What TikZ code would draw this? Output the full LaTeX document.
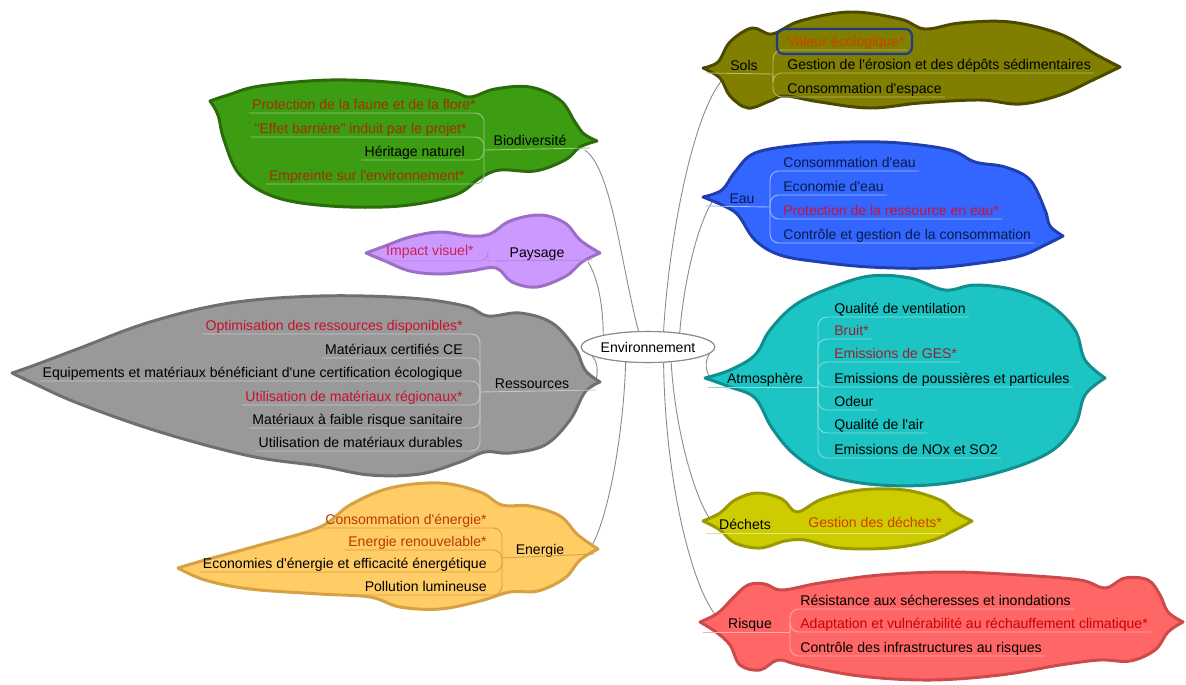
\documentclass[tikz,border=0pt]{standalone}
\usepackage{fontspec}
\setmainfont{Liberation Sans}[Ligatures=TeXOff]
\usetikzlibrary{shapes.geometric,calc}
\definecolor{gfill}{HTML}{3C9C12}\definecolor{gdraw}{HTML}{2B6B0B}\definecolor{gred}{HTML}{A33000}
\definecolor{pfill}{HTML}{CC99FF}\definecolor{pdraw}{HTML}{9A6FC4}\definecolor{pred}{HTML}{CC2255}
\definecolor{rfill}{HTML}{999999}\definecolor{rdraw}{HTML}{6F6F6F}\definecolor{rred}{HTML}{C8102E}
\definecolor{efill}{HTML}{FFCC66}\definecolor{edraw}{HTML}{D6A143}\definecolor{ered}{HTML}{B83A00}
\definecolor{sfill}{HTML}{807F00}\definecolor{sdraw}{HTML}{4C4A00}\definecolor{sred}{HTML}{D04000}\definecolor{selbox}{HTML}{1C3B8C}
\definecolor{wfill}{HTML}{3366FF}\definecolor{wdraw}{HTML}{1F3FB0}\definecolor{wtxt}{HTML}{0A1A4A}\definecolor{wred}{HTML}{D01030}
\definecolor{afill}{HTML}{1CC4C4}\definecolor{adraw}{HTML}{118F8F}\definecolor{ared}{HTML}{9A2030}
\definecolor{dfill}{HTML}{CCCC00}\definecolor{ddraw}{HTML}{9A9A00}\definecolor{dred}{HTML}{D04000}
\definecolor{xfill}{HTML}{FF6666}\definecolor{xdraw}{HTML}{CC4A4A}\definecolor{xred}{HTML}{CC0000}
\definecolor{connc}{HTML}{8A8A8A}
\begin{document}
\begin{tikzpicture}[x=0.02cm,y=-0.02cm,
  font=\fontsize{8}{9.6}\selectfont,
  blob/.style={line width=1.7pt,line join=round},
  sm/.style={smooth,tension=0.6},
  itemR/.style={anchor=base west,inner sep=0pt},
  itemL/.style={anchor=base east,inner sep=0pt},
  lab/.style={anchor=base,inner sep=0pt},
  conn/.style={draw=connc,line width=0.5pt},
  ul/.style={line width=0.5pt,rounded corners=5}]
\useasboundingbox[fill=white] (0,0) rectangle (1186,684);

% centre
\node[ellipse,draw=connc,fill=white,line width=0.6pt,inner sep=0pt,minimum width=2.18cm,minimum height=0.62cm] (env) at (648,347) {Environnement};

% connector ends
\coordinate (bioC) at (585,150);
\coordinate (payC) at (588,262);
\coordinate (resC) at (596,380);
\coordinate (eneC) at (588,552);
\coordinate (solsC) at (722,80);
\coordinate (eauC) at (712,202);
\coordinate (atmC) at (710,377);
\coordinate (decC) at (712,522);
\coordinate (risC) at (718,618);

\draw[conn] (env.121) .. controls (620,260) and (612,170) .. (bioC);
\draw[conn] (env.165) .. controls (603,305) and (598,278) .. (payC);
\draw[conn] (env.189) .. controls (598,362) and (598,372) .. (resC);
\draw[conn] (env.214) .. controls (624,430) and (608,525) .. (eneC);
\draw[conn] (env.45) .. controls (668,250) and (690,120) .. (solsC);
\draw[conn] (env.24) .. controls (683,290) and (695,230) .. (eauC);
\draw[conn] (env.354) .. controls (704,362) and (706,372) .. (atmC);
\draw[conn] (env.327) .. controls (675,430) and (695,500) .. (decC);
\draw[conn] (env.315) .. controls (665,480) and (692,590) .. (risC);

% ---------- blobs ----------
\filldraw[blob,fill=gfill,draw=gdraw]
  plot[sm] coordinates {(210,101) (228,95) (260,86) (330,80) (400,83) (450,91) (470,97) (495,89) (530,87) (560,100) (575,122) (584,134) (597,141)}
  -- plot[sm] coordinates {(597,141) (580,147) (565,160) (535,171) (500,170) (480,178) (455,195) (400,206) (330,206) (275,197) (240,175) (224,140) (218,115) (210,101)} -- cycle;
\filldraw[blob,fill=pfill,draw=pdraw]
  plot[sm] coordinates {(366,253) (385,246) (410,237) (440,232) (470,236) (490,234) (510,221) (540,215) (565,223) (580,240) (600,253)}
  -- plot[sm] coordinates {(600,253) (582,262) (566,276) (537,287) (512,282) (496,268) (470,271) (440,274) (410,271) (385,261) (366,253)} -- cycle;
\filldraw[blob,fill=rfill,draw=rdraw]
  plot[sm] coordinates {(12,373) (35,365) (80,348) (150,322) (230,303) (320,296) (410,298) (465,306) (488,316) (520,313) (552,323) (575,348) (585,370) (600,382)}
  -- plot[sm] coordinates {(600,382) (585,392) (570,420) (545,445) (510,453) (485,452) (460,462) (420,474) (370,475) (320,466) (250,456) (160,432) (80,404) (35,384) (12,373)} -- cycle;
\filldraw[blob,fill=efill,draw=edraw]
  plot[sm] coordinates {(178,568) (205,560) (260,545) (320,527) (350,505) (390,488) (440,483) (480,492) (502,505) (530,506) (560,516) (578,535) (598,549)}
  -- plot[sm] coordinates {(598,549) (580,560) (565,578) (538,591) (510,592) (480,601) (440,609) (400,607) (370,597) (320,594) (250,589) (205,580) (178,568)} -- cycle;
\filldraw[blob,fill=sfill,draw=sdraw]
  plot[sm] coordinates {(703,68) (718,62) (730,42) (752,28) (772,34) (800,21) (850,12) (900,19) (925,29) (960,23) (1010,22) (1060,34) (1095,54) (1120,67)}
  -- plot[sm] coordinates {(1120,67) (1095,79) (1060,95) (1020,104) (980,100) (920,103) (870,108) (820,102) (785,96) (770,101) (748,108) (730,96) (720,78) (703,68)} -- cycle;
\filldraw[blob,fill=wfill,draw=wdraw]
  plot[sm] coordinates {(703,197) (722,190) (735,172) (755,153) (800,145) (850,142) (900,143) (950,150) (975,162) (1005,167) (1030,180) (1045,210) (1050,226) (1063,236)}
  -- plot[sm] coordinates {(1063,236) (1045,245) (1020,256) (980,263) (930,268) (870,267) (820,262) (780,255) (755,240) (738,215) (722,205) (703,197)} -- cycle;
\filldraw[blob,fill=afill,draw=adraw]
  plot[sm] coordinates {(705,378) (730,370) (755,355) (770,330) (795,305) (830,288) (870,276) (910,278) (945,290) (975,285) (1015,290) (1050,305) (1075,330) (1085,360) (1105,378)}
  -- plot[sm] coordinates {(1105,378) (1085,395) (1075,425) (1050,452) (1000,472) (940,484) (880,485) (830,476) (795,455) (772,428) (755,398) (730,387) (705,378)} -- cycle;
\filldraw[blob,fill=dfill,draw=ddraw]
  plot[sm] coordinates {(703,521) (720,513) (735,500) (757,493) (782,499) (797,512) (822,499) (860,490) (905,490) (940,500) (955,512) (972,521)}
  -- plot[sm] coordinates {(972,521) (955,530) (930,541) (890,548) (840,548) (805,540) (785,541) (760,548) (735,543) (720,530) (703,521)} -- cycle;
\filldraw[blob,fill=xfill,draw=xdraw]
  plot[sm] coordinates {(700,622) (718,613) (733,598) (748,585) (765,584) (782,590) (820,583) (880,575) (950,572) (1020,575) (1080,580) (1105,588) (1125,578) (1148,580) (1160,595) (1168,612) (1183,622)}
  -- plot[sm] coordinates {(1183,622) (1168,632) (1155,650) (1130,661) (1100,660) (1060,665) (1000,675) (930,680) (860,676) (800,665) (778,660) (760,670) (740,665) (730,645) (716,632) (700,622)} -- cycle;

\node[ellipse,draw=connc,fill=white,line width=0.6pt,inner sep=0pt,minimum width=2.18cm,minimum height=0.62cm] at (env) {Environnement};

% ---------- Biodiversité ----------
\node[lab] (bio) at (530,145) {Biodiversité};
\node[itemL,text=gred] (bio1) at (476,109) {Protection de la faune et de la flore*};
\node[itemL,text=gred] (bio2) at (467,133) {"Effet barrière" induit par le projet*};
\node[itemL] (bio3) at (465,156) {Héritage naturel};
\node[itemL,text=gred] (bio4) at (465,180) {Empreinte sur l'environnement*};
\coordinate (bioB) at (484,150);
\draw[ul,draw=gfill!55!white] (bioB) -- (590,148);
\foreach \i in {1,...,4}{\draw[ul,draw=gfill!55!white] (bioB) |- ($(bio\i.base west)+(-3,4)$);}

% ---------- Paysage ----------
\node[lab] (pay) at (537,257) {Paysage};
\node[itemL,text=pred] (pay1) at (474,255) {Impact visuel*};
\coordinate (payB) at (488,261);
\draw[ul,draw=pfill!50!pdraw] (payB) -- (592,260);
\draw[ul,draw=pfill!50!pdraw] (payB) |- ($(pay1.base west)+(-3,6)$);

% ---------- Ressources ----------
\node[lab] (res) at (532,388) {Ressources};
\node[itemL,text=rred] (res1) at (463,330) {Optimisation des ressources disponibles*};
\node[itemL] (res2) at (463,354) {Matériaux certifiés CE};
\node[itemL] (res3) at (463,377) {Equipements et matériaux bénéficiant d'une certification écologique};
\node[itemL,text=rred] (res4) at (463,401) {Utilisation de matériaux régionaux*};
\node[itemL] (res5) at (463,424) {Matériaux à faible risque sanitaire};
\node[itemL] (res6) at (463,447) {Utilisation de matériaux durables};
\coordinate (resB) at (480,392);
\draw[ul,draw=rfill!55!white] (resB) -- (596,390);
\foreach \i in {1,...,6}{\draw[ul,draw=rfill!55!white] (resB) |- ($(res\i.base west)+(-3,4)$);}

% ---------- Energie ----------
\node[lab] (ene) at (540,554) {Energie};
\node[itemL,text=ered] (ene1) at (487,524) {Consommation d'énergie*};
\node[itemL,text=ered] (ene2) at (487,546) {Energie renouvelable*};
\node[itemL] (ene3) at (487,568) {Economies d'énergie et efficacité énergétique};
\node[itemL] (ene4) at (487,591) {Pollution lumineuse};
\coordinate (eneB) at (502,558);
\draw[ul,draw=edraw] (eneB) -- (594,554);
\foreach \i in {1,...,4}{\draw[ul,draw=edraw] (eneB) |- ($(ene\i.base west)+(-3,4)$);}

% ---------- Sols ----------
\node[lab] (sols) at (744,70) {Sols};
\node[itemR,text=sred] (sols1) at (787,46) {Valeur écologique*};
\node[itemR] (sols2) at (787,69) {Gestion de l'érosion et des dépôts sédimentaires};
\node[itemR] (sols3) at (787,93) {Consommation d'espace};
\coordinate (solsB) at (773,74);
\draw[ul,draw=sfill!55!white] (706,73) -- (solsB);
\foreach \i in {1,...,3}{\draw[ul,draw=sfill!55!white] (solsB) |- ($(sols\i.base east)+(3,4)$);}
\draw[selbox,line width=1.2pt,rounded corners=4] (777,29) rectangle (912,54);

% ---------- Eau ----------
\node[lab,text=wtxt] (eau) at (742,203) {Eau};
\node[itemR,text=wtxt] (eau1) at (783,167) {Consommation d'eau};
\node[itemR,text=wtxt] (eau2) at (783,191) {Economie d'eau};
\node[itemR,text=wred] (eau3) at (783,215) {Protection de la ressource en eau*};
\node[itemR,text=wtxt] (eau4) at (783,239) {Contrôle et gestion de la consommation};
\coordinate (eauB) at (770,207);
\draw[ul,draw=wfill!45!white] (706,206) -- (eauB);
\foreach \i in {1,...,4}{\draw[ul,draw=wfill!45!white] (eauB) |- ($(eau\i.base east)+(3,4)$);}

% ---------- Atmosphère ----------
\node[lab] (atm) at (765,383) {Atmosphère};
\node[itemR] (atm1) at (834,313) {Qualité de ventilation};
\node[itemR,text=ared] (atm2) at (834,335) {Bruit*};
\node[itemR,text=ared] (atm3) at (834,358) {Emissions de GES*};
\node[itemR] (atm4) at (834,383) {Emissions de poussières et particules};
\node[itemR] (atm5) at (834,406) {Odeur};
\node[itemR] (atm6) at (834,429) {Qualité de l'air};
\node[itemR] (atm7) at (834,454) {Emissions de NOx et SO2};
\coordinate (atmB) at (818,387);
\draw[ul,draw=afill!55!white] (708,387) -- (atmB);
\foreach \i in {1,...,7}{\draw[ul,draw=afill!55!white] (atmB) |- ($(atm\i.base east)+(3,4)$);}

% ---------- Déchets ----------
\node[lab] (dec) at (745,529) {Déchets};
\node[itemR,text=dred] (dec1) at (808,527) {Gestion des déchets*};
\coordinate (decB) at (795,533);
\draw[ul,draw=dfill!50!white] (706,533) -- (decB);
\draw[ul,draw=dfill!50!white] (decB) -- ($(dec1.base east)+(3,6)$);

% ---------- Risque ----------
\node[lab] (ris) at (750,628) {Risque};
\node[itemR] (ris1) at (800,605) {Résistance aux sécheresses et inondations};
\node[itemR,text=xred] (ris2) at (800,628) {Adaptation et vulnérabilité au réchauffement climatique*};
\node[itemR] (ris3) at (800,652) {Contrôle des infrastructures au risques};
\coordinate (risB) at (790,632);
\draw[ul,draw=xfill!55!white] (703,632) -- (risB);
\foreach \i in {1,...,3}{\draw[ul,draw=xfill!55!white] (risB) |- ($(ris\i.base east)+(3,4)$);}
\end{tikzpicture}
\end{document}
